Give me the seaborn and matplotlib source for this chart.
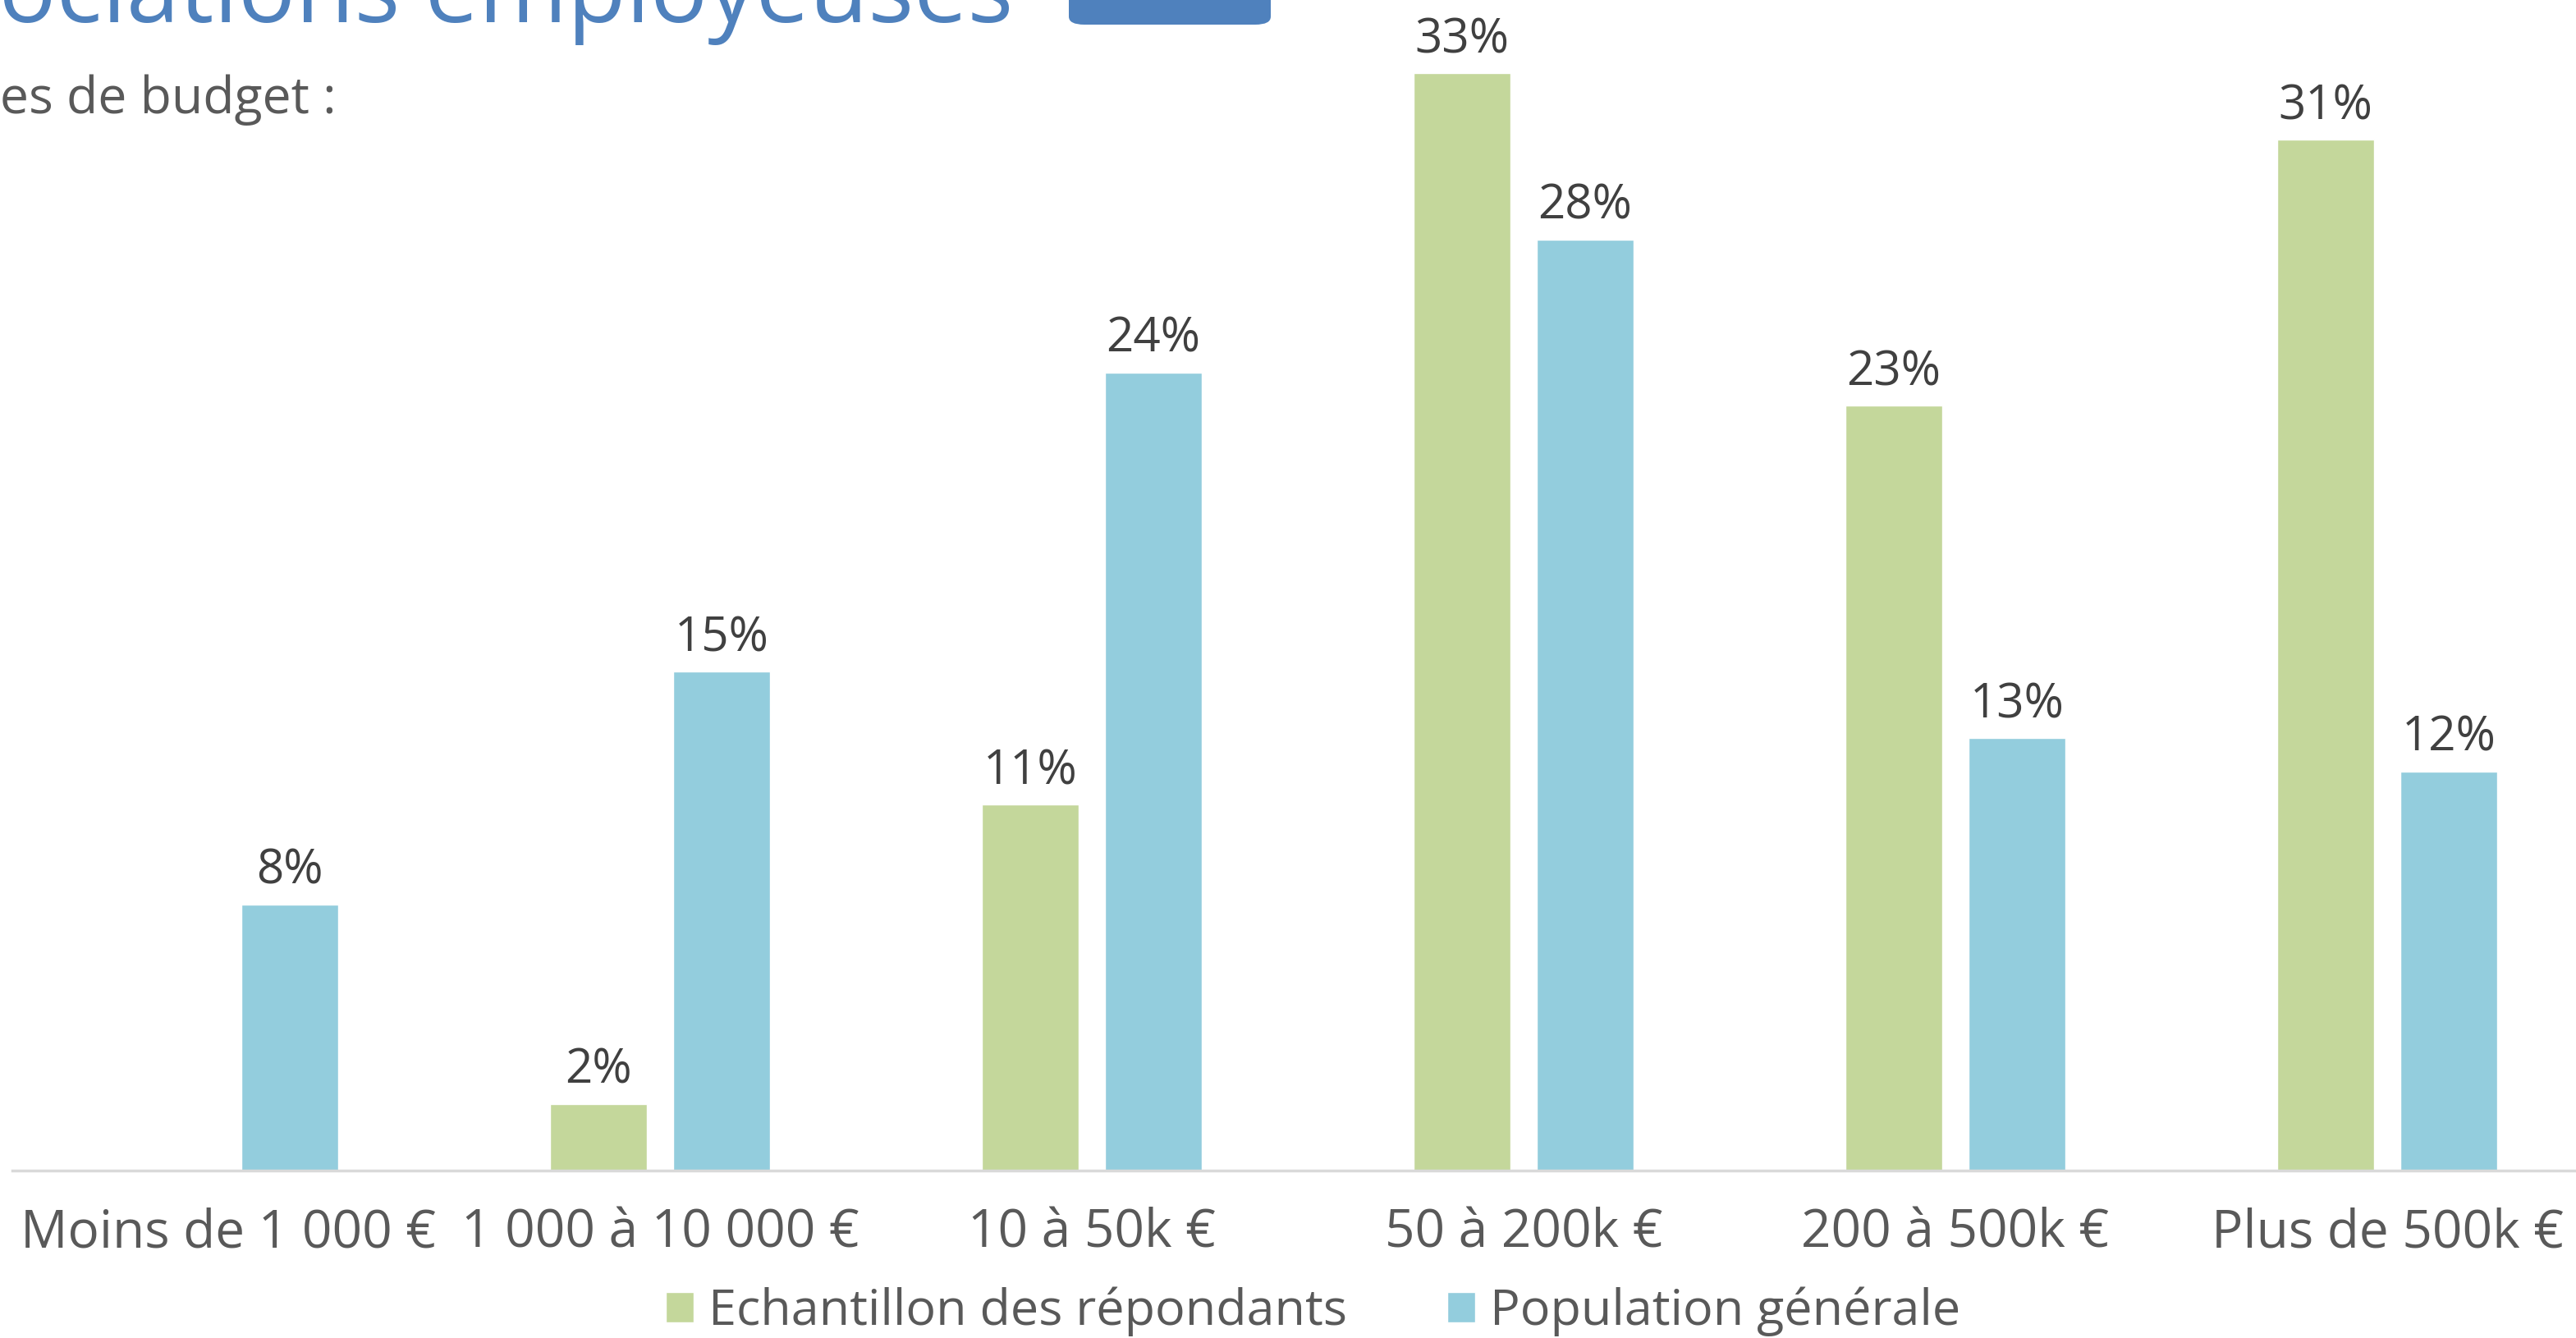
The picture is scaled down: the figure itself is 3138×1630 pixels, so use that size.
import pandas as pd
import numpy as np
import matplotlib
matplotlib.use("Agg")
import matplotlib.pyplot as plt
from matplotlib.patches import FancyBboxPatch
import seaborn as sns

# === DATA ===
categories = ["Moins de 1 000 €", "1 000 à 10 000 €", "10 à 50k €",
              "50 à 200k €", "200 à 500k €", "Plus de 500k €"]
echantillon = [np.nan, 2, 11, 33, 23, 31]
population = [8, 15, 24, 28, 13, 12]
series_names = ["Echantillon des répondants", "Population générale"]
colors = ["#C4D79B", "#93CDDD"]

df = pd.DataFrame({
    "tranche": categories * 2,
    "serie": [series_names[0]] * len(categories) + [series_names[1]] * len(categories),
    "valeur": echantillon + population,
})

# === Plotting Setup ===
sns.set_theme(style="white")
plt.rcParams["font.family"] = ["Open Sans", "DejaVu Sans"]

fig = plt.figure(figsize=(31.38, 16.30), dpi=100)
W, H = 3138, 1630
ax = fig.add_axes([15 / W, (H - 1426) / H, 3156 / W, 1426 / H])

sns.barplot(data=df, x="tranche", y="valeur", hue="serie", order=categories,
            hue_order=series_names, palette=colors, width=0.57, gap=0.21,
            saturation=1, ax=ax, legend=True)

for cont in ax.containers:
    ax.bar_label(cont, fmt="{:.0f}%", padding=8, fontsize=42, color="#404040")

ax.set_xlim(-0.5, 5.5)
ax.set_ylim(0, 35.2)
ax.set_xlabel("")
ax.set_ylabel("")
ax.set_yticks([])
for s in ["top", "left", "right"]:
    ax.spines[s].set_visible(False)
ax.spines["bottom"].set_color("#D9D9D9")
ax.spines["bottom"].set_linewidth(2.5)
ax.tick_params(axis="x", length=0, pad=32, labelsize=46, labelcolor="#595959")

ax.legend(loc="center", bbox_to_anchor=(1600 / W, (H - 1598) / H),
          bbox_transform=fig.transFigure, ncol=2, frameon=False,
          fontsize=44, labelcolor="#595959", handlelength=0.55,
          handleheight=0.55, handletextpad=0.3, columnspacing=2.0)

# === Header (cropped in the source) ===
fig.text(1234 / W, 1 - 27 / H, "Les associations employeuses", ha="right",
         va="baseline", fontsize=84, color="#4F81BD")
fig.text(410 / W, 1 - 138 / H, "Répartition par tranches de budget :",
         ha="right", va="baseline", fontsize=45, color="#595959")
fig.patches.append(FancyBboxPatch((1302 / W, 1 - 30 / H), 246 / W, 60 / H,
                                  boxstyle="round,pad=0,rounding_size=0.006",
                                  transform=fig.transFigure, facecolor="#4F81BD",
                                  edgecolor="none", figure=fig))

plt.savefig("out.png", dpi=100)
plt.close()
